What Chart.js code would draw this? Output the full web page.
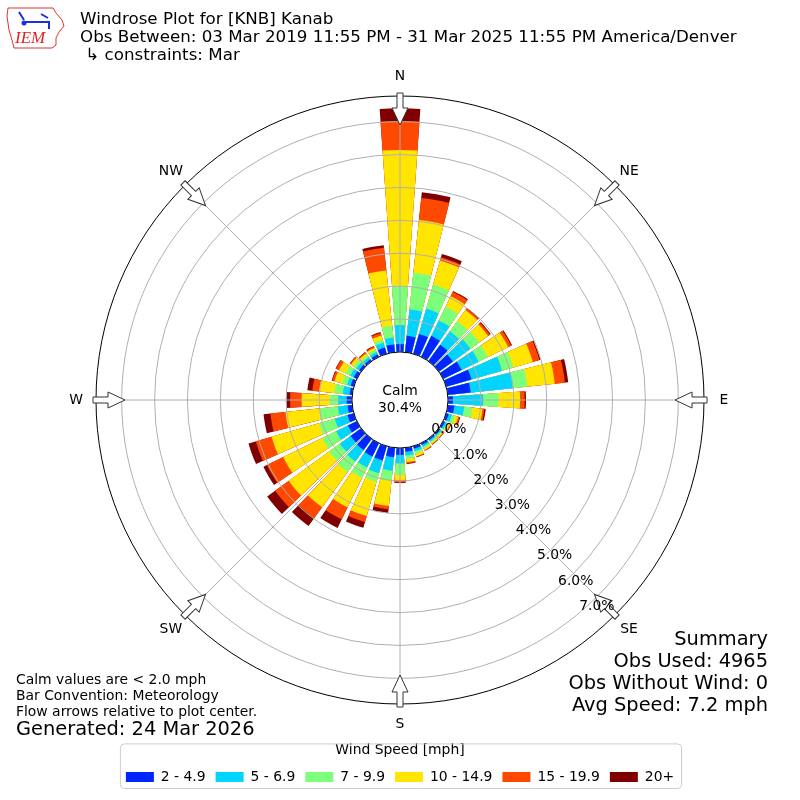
<!DOCTYPE html>
<html>
<head>
<meta charset="utf-8">
<title>Windrose KNB</title>
<script src="https://cdn.jsdelivr.net/npm/chart.js@4.4.1/dist/chart.umd.min.js"></script>
<style>
  html, body { margin: 0; padding: 0; background: #fff; }
  canvas { display: block; }
</style>
</head>
<body>
<canvas id="windrose" width="800" height="800"></canvas>
<script>
// direction bins (degrees, meteorological: where the wind comes from)
const directions = [0, 10, 20, 30, 40, 50, 60, 70, 80, 90, 100, 110, 120, 130, 140, 150, 160, 170,
                    180, 190, 200, 210, 220, 230, 240, 250, 260, 270, 280, 290, 300, 310, 320, 330, 340, 350];
const speedBins = ['2 - 4.9', '5 - 6.9', '7 - 9.9', '10 - 14.9', '15 - 19.9', '20+'];

// frequency [%] per direction, one array per speed bin
const speed2to5 = [0.24, 0.50, 0.63, 0.71, 0.62, 0.53, 0.62, 0.80, 0.70, 0.15, 0.20, 0.08, 0.06, 0.05, 0.05, 0.06, 0.08, 0.12,
                   0.21, 0.29, 0.45, 0.45, 0.42, 0.40, 0.30, 0.20, 0.14, 0.16, 0.08, 0.10, 0.10, 0.08, 0.07, 0.08, 0.20, 0.24];
const speed5to7 = [0.58, 0.81, 0.80, 0.52, 0.50, 0.66, 0.58, 0.97, 1.29, 0.92, 0.30, 0.10, 0.06, 0.05, 0.05, 0.06, 0.08, 0.12,
                   0.26, 0.41, 0.41, 0.37, 0.43, 0.40, 0.40, 0.40, 0.30, 0.26, 0.21, 0.11, 0.12, 0.10, 0.08, 0.08, 0.15, 0.21];
const speed7to10 = [1.17, 1.12, 0.76, 0.47, 0.38, 0.33, 0.31, 0.35, 0.44, 0.46, 0.25, 0.10, 0.06, 0.04, 0.05, 0.06, 0.08, 0.11,
                    0.35, 0.31, 0.27, 0.35, 0.40, 0.40, 0.47, 0.50, 0.56, 0.25, 0.26, 0.16, 0.16, 0.10, 0.07, 0.08, 0.10, 0.36];
const speed10to15 = [4.15, 1.61, 0.76, 0.35, 0.42, 0.33, 0.69, 0.62, 0.84, 0.66, 0.31, 0.10, 0.05, 0.04, 0.04, 0.05, 0.08, 0.09,
                     0.15, 0.77, 1.08, 1.00, 1.32, 1.52, 1.32, 1.50, 1.04, 0.86, 0.46, 0.24, 0.22, 0.10, 0.07, 0.07, 0.13, 1.69];
const speed15to20 = [0.88, 0.67, 0.10, 0.15, 0.06, 0.07, 0.10, 0.21, 0.31, 0.14, 0.06, 0.05, 0.03, 0.02, 0.02, 0.02, 0.02, 0.04,
                     0.07, 0.10, 0.19, 0.41, 0.41, 0.51, 0.55, 0.50, 0.46, 0.35, 0.21, 0.07, 0.10, 0.04, 0.04, 0.04, 0.08, 0.69];
const speed20plus = [0.39, 0.18, 0.11, 0.03, 0.02, 0.03, 0.03, 0.03, 0.10, 0.04, 0.04, 0.02, 0.01, 0.01, 0.01, 0.01, 0.01, 0.02,
                     0.02, 0.11, 0.18, 0.29, 0.29, 0.30, 0.12, 0.23, 0.21, 0.11, 0.15, 0.02, 0.02, 0.01, 0.01, 0.02, 0.03, 0.08];

const radialTicks = [0, 1, 2, 3, 4, 5, 6, 7];
const compassLabels = ['N', 'NE', 'E', 'SE', 'S', 'SW', 'W', 'NW'];
const calmText = ['Calm', '30.4%'];
const titleLines = ['Windrose Plot for [KNB] Kanab',
                    'Obs Between: 03 Mar 2019 11:55 PM - 31 Mar 2025 11:55 PM America/Denver',
                    ' \u21b3 constraints: Mar'];
const noteLines = ['Calm values are < 2.0 mph', 'Bar Convention: Meteorology', 'Flow arrows relative to plot center.'];
const generatedText = 'Generated: 24 Mar 2026';
const summaryLines = ['Summary', 'Obs Used: 4965', 'Obs Without Wind: 0', 'Avg Speed: 7.2 mph'];

const binColors = ['#0026ff', '#00d4ff', '#7cff7a', '#ffe500', '#ff4800', '#800000'];
const series = [speed2to5, speed5to7, speed7to10, speed10to15, speed15to20, speed20plus];

// stacked bars: each dataset is the running total, smallest total drawn last (on top)
const cumulative = series.map((s, k) => directions.map((d, i) => {
  let sum = 0;
  for (let j = 0; j <= k; j++) sum += series[j][i];
  return +sum.toFixed(2);
}));

// every bar is followed by an empty slot, so bars get an angular gap like the original
const barAngle = 8, gapAngle = 2;
const labels = directions.flatMap(d => [d + '\u00b0', '']);
const datasets = cumulative.map((vals, k) => ({
  label: speedBins[k],
  data: vals.flatMap(v => [v, 0]),
  backgroundColor: c => (c.dataIndex % 2 === 0 ? binColors[k] : 'rgba(0,0,0,0)'),
  borderWidth: 0,
  angle: c => (c.dataIndex % 2 === 0 ? barAngle : gapAngle)
}));

const FS = 13.9; // 10pt at 100 dpi
Chart.defaults.font.family = '"DejaVu Sans", sans-serif';
Chart.defaults.font.size = FS;
Chart.defaults.color = '#000';

function compassXY(scale, deg, dist) {
  const t = deg * Math.PI / 180;
  return [scale.xCenter + dist * Math.sin(t), scale.yCenter - dist * Math.cos(t)];
}

const roseDecor = {
  id: 'roseDecor',
  afterDatasetsDraw(chart) {
    const ctx = chart.ctx;
    const s = chart.scales.r;
    const R = s.drawingArea;
    const calmR = s.getDistanceFromCenterForValue(0);
    ctx.save();
    // grid on top of the bars
    ctx.strokeStyle = '#b0b0b0';
    ctx.lineWidth = 1;
    radialTicks.forEach(v => {
      ctx.beginPath();
      ctx.arc(s.xCenter, s.yCenter, s.getDistanceFromCenterForValue(v), 0, 2 * Math.PI);
      ctx.stroke();
    });
    compassLabels.forEach((l, i) => {
      const a = compassXY(s, i * 45, calmR), b = compassXY(s, i * 45, R);
      ctx.beginPath();
      ctx.moveTo(a[0], a[1]);
      ctx.lineTo(b[0], b[1]);
      ctx.stroke();
    });
    // calm circle
    ctx.beginPath();
    ctx.arc(s.xCenter, s.yCenter, calmR, 0, 2 * Math.PI);
    ctx.fillStyle = '#fff';
    ctx.fill();
    ctx.strokeStyle = '#000';
    ctx.stroke();
    // outer frame
    ctx.beginPath();
    ctx.arc(s.xCenter, s.yCenter, R, 0, 2 * Math.PI);
    ctx.stroke();
    // inward flow arrows
    compassLabels.forEach((l, i) => {
      ctx.save();
      ctx.translate(s.xCenter, s.yCenter);
      ctx.rotate(i * Math.PI / 4);
      ctx.beginPath();
      ctx.moveTo(-3, -(R + 3));
      ctx.lineTo(3, -(R + 3));
      ctx.lineTo(3, -(R - 12));
      ctx.lineTo(8, -(R - 12));
      ctx.lineTo(0, -(R - 29));
      ctx.lineTo(-8, -(R - 12));
      ctx.lineTo(-3, -(R - 12));
      ctx.closePath();
      ctx.fillStyle = '#fff';
      ctx.fill();
      ctx.strokeStyle = '#333';
      ctx.lineWidth = 1;
      ctx.stroke();
      ctx.restore();
    });
    ctx.restore();
  },
  afterDraw(chart) {
    const ctx = chart.ctx;
    const s = chart.scales.r;
    const R = s.drawingArea;
    ctx.save();
    ctx.fillStyle = '#000';
    ctx.textBaseline = 'middle';

    // compass labels
    ctx.textAlign = 'center';
    ctx.font = FS + 'px "DejaVu Sans"';
    compassLabels.forEach((l, i) => {
      const p = compassXY(s, i * 45, R + 20);
      ctx.fillText(l, p[0], p[1]);
    });
    // radial tick labels
    radialTicks.forEach(v => {
      const p = compassXY(s, 140, s.getDistanceFromCenterForValue(v));
      ctx.fillText(v.toFixed(1) + '%', p[0] + 18, p[1] - 7);
    });
    // calm
    ctx.fillText(calmText[0], s.xCenter, s.yCenter - 9);
    ctx.fillText(calmText[1], s.xCenter, s.yCenter + 8);

    // title block
    ctx.textAlign = 'left';
    ctx.font = '16.7px "DejaVu Sans"';
    titleLines.forEach((t, i) => ctx.fillText(t, 80, 20 + i * 18));

    // notes bottom left
    ctx.font = FS + 'px "DejaVu Sans"';
    noteLines.forEach((t, i) => ctx.fillText(t, 16, 680 + i * 16));
    ctx.font = '19.4px "DejaVu Sans"';
    ctx.fillText(generatedText, 16, 730);

    // summary bottom right
    ctx.textAlign = 'right';
    summaryLines.forEach((t, i) => ctx.fillText(t, 768, 640 + i * 22));

    // legend frame
    const lg = chart.legend;
    if (lg && lg.legendHitBoxes.length) {
      const hb = lg.legendHitBoxes;
      const x0 = Math.min(...hb.map(b => b.left)) - 6;
      const x1 = Math.max(...hb.map(b => b.left + b.width)) + 7;
      const y0 = lg.top + 6, y1 = lg.bottom - 6;
      ctx.beginPath();
      ctx.roundRect(x0 + 0.5, y0 + 0.5, x1 - x0, y1 - y0, 4);
      ctx.strokeStyle = '#cccccc';
      ctx.lineWidth = 1;
      ctx.stroke();
    }

    // IEM logo (simplified)
    ctx.strokeStyle = '#d33';
    ctx.lineWidth = 1;
    ctx.beginPath();
    ctx.moveTo(8, 8); ctx.lineTo(53, 8); ctx.lineTo(56, 13); ctx.lineTo(62, 20);
    ctx.lineTo(64, 26); ctx.lineTo(59, 32); ctx.lineTo(56, 38); ctx.lineTo(56, 45);
    ctx.lineTo(52, 48); ctx.lineTo(14, 48); ctx.lineTo(12, 40); ctx.lineTo(9, 30); ctx.lineTo(7, 16);
    ctx.closePath();
    ctx.stroke();
    ctx.strokeStyle = '#1a2ee6';
    ctx.lineWidth = 2;
    ctx.beginPath();
    ctx.moveTo(23, 22); ctx.lineTo(50, 22);
    ctx.moveTo(19, 12); ctx.lineTo(24, 20);
    ctx.moveTo(41, 14); ctx.lineTo(48, 18);
    ctx.moveTo(49, 22); ctx.lineTo(49, 29);
    ctx.stroke();
    ctx.fillStyle = '#1a2ee6';
    ctx.beginPath(); ctx.arc(24, 23, 2.5, 0, 2 * Math.PI); ctx.fill();
    ctx.fillStyle = '#d22';
    ctx.textAlign = 'left';
    ctx.font = 'italic 17px "Liberation Serif"';
    ctx.fillText('IEM', 15, 39);
    ctx.restore();
  }
};

new Chart(document.getElementById('windrose'), {
  type: 'polarArea',
  data: { labels: labels, datasets: datasets },
  options: {
    responsive: false,
    animation: false,
    layout: { padding: { left: 96, right: 96, top: 64, bottom: 6 } },
    scales: {
      r: {
        startAngle: -barAngle / 2,
        min: -1.46,
        max: 7.78,
        beginAtZero: false,
        ticks: { display: false },
        grid: { display: false },
        angleLines: { display: false },
        pointLabels: { display: false }
      }
    },
    plugins: {
      tooltip: { enabled: false },
      legend: {
        position: 'bottom',
        onClick: null,
        title: { display: true, text: 'Wind Speed [mph]', font: { size: FS }, padding: { top: 6, bottom: 0 } },
        labels: {
          boxWidth: 28,
          boxHeight: 10,
          padding: 10,
          font: { size: FS },
          generateLabels: () => speedBins.map((t, i) => ({
            text: t, fillStyle: binColors[i], strokeStyle: binColors[i], lineWidth: 0, hidden: false, datasetIndex: i
          }))
        }
      }
    }
  },
  plugins: [roseDecor]
});
</script>
</body>
</html>
